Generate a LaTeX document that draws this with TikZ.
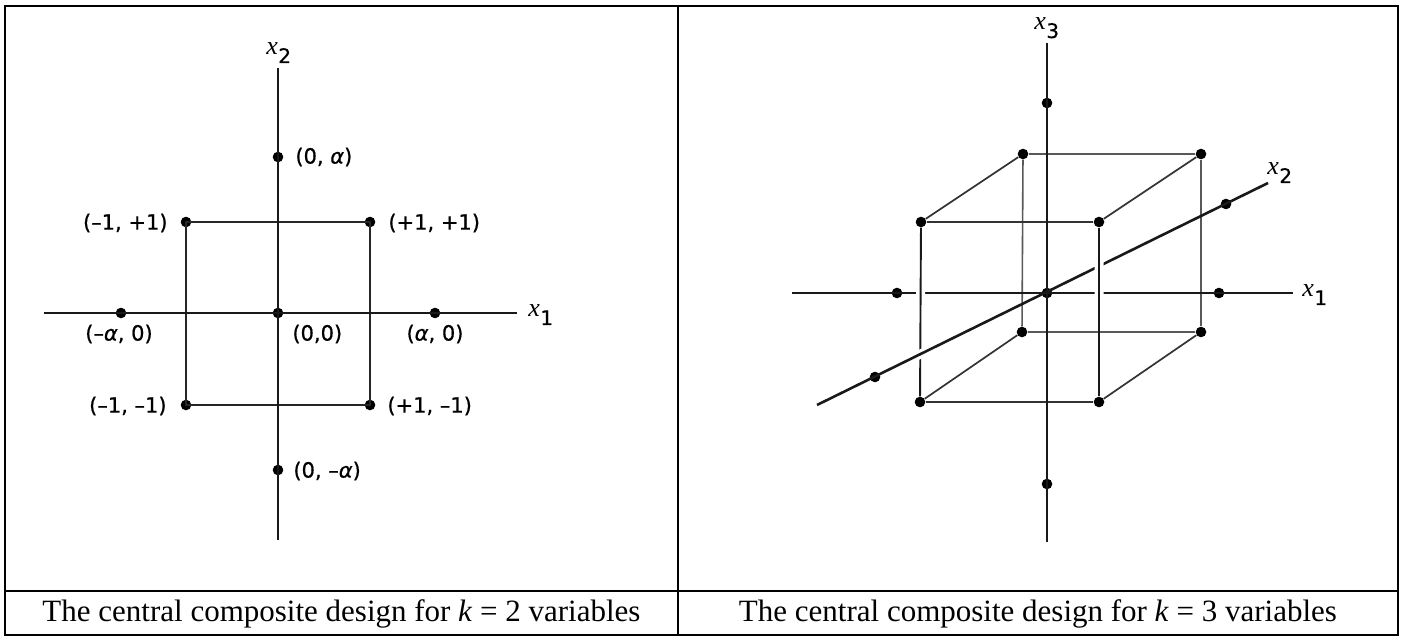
\documentclass[tikz,border=0pt]{standalone}
\usepackage{fontspec}
\setmainfont{Liberation Serif}
\newfontfamily\labfont[FakeBold=0.7]{DejaVu Sans}
\usetikzlibrary{calc}
\newcommand\xsub[1]{\textit{x}\kern0.2pt\raisebox{-4pt}{\labfont\fontsize{10}{10}\selectfont #1}}
\begin{document}
\begin{tikzpicture}[x=0.5pt,y=-0.5pt,
  dot/.style={circle,fill=black,inner sep=0pt,minimum size=5.3pt},
  axisline/.style={line width=1.3pt,black!90},
  sqedge/.style={line width=0.95pt,black!85},
  cedge/.style={line width=0.85pt,black!80},
  backedge/.style={line width=0.8pt,black!65},
  halo/.style={line width=4.5pt,white},
  lbl/.style={inner sep=0pt,font=\labfont\fontsize{10.5}{12}\selectfont},
  axlbl/.style={inner sep=0pt,font=\fontsize{13}{15}\selectfont},
  captext/.style={inner sep=0pt,font=\fontsize{15.5}{18}\selectfont},
  frame/.style={line width=1pt,black}]

\useasboundingbox (0,0) rectangle (1403,641);

% ---------- table frame ----------
\coordinate (TL) at (5,6);
\coordinate (BR) at (1398,635);
\coordinate (TM) at (678,6);
\coordinate (BM) at (678,635);
\coordinate (ML) at (5,591);
\coordinate (MR) at (1398,591);
\draw[frame] (TL) rectangle (BR);
\draw[line width=0.8pt] (TM) -- (BM);
\draw[line width=1.2pt] (ML) -- (MR);

\node[captext,anchor=base] (capL) at (341.5,621) {The central composite design for \textit{k} = 2 variables};
\node[captext,anchor=base] (capR) at (1038,621) {The central composite design for \textit{k} = 3 variables};

% ---------- left diagram (k = 2) ----------
\coordinate (Lx1a) at (44,313);
\coordinate (Lx1b) at (517,313);
\coordinate (Lx2a) at (278,68);
\coordinate (Lx2b) at (278,540);
\node[dot] (L00) at (278,313) {};
\node[dot] (L0a) at (278,157) {};
\node[dot] (L0m) at (278,470) {};
\node[dot] (Lma) at (121,313) {};
\node[dot] (La0) at (435,313) {};
\node[dot] (Lmp) at (186,222) {};
\node[dot] (Lpp) at (370,222) {};
\node[dot] (Lmm) at (186,405) {};
\node[dot] (Lpm) at (370,405) {};
\draw[sqedge] (Lmp.center) -- (Lpp.center) -- (Lpm.center) -- (Lmm.center) -- cycle;
\draw[axisline] (Lx1a) -- (Lx1b);
\draw[axisline] (Lx2a) -- (Lx2b);

\node[lbl,anchor=west] (tL0a) at (295,157) {(0, \textit{α})};
\node[lbl,anchor=east] (tLmp) at (168,223) {(–1, +1)};
\node[lbl,anchor=west] (tLpp) at (388,223) {(+1, +1)};
\node[lbl,anchor=east] (tLmm) at (167,406) {(–1, –1)};
\node[lbl,anchor=west] (tLpm) at (387,406) {(+1, –1)};
\node[lbl,anchor=west] (tL0m) at (293,471) {(0, –\textit{α})};
\node[lbl] (tLma) at (119,334) {(–\textit{α}, 0)};
\node[lbl,anchor=west] (tL00) at (292,334) {(0,0)};
\node[lbl] (tLa0) at (435,334) {(\textit{α}, 0)};
\node[axlbl,anchor=base west] (Lx1l) at (528,317) {\xsub{1}};
\node[axlbl,anchor=base west] (Lx2l) at (266,55) {\xsub{2}};

% ---------- right diagram (k = 3) ----------
\coordinate (Rx1a) at (792,293);
\coordinate (Rx1b) at (1293,293);
\coordinate (Rx3a) at (1047,43);
\coordinate (Rx3b) at (1047,542);
\coordinate (Rx2a) at (817,405);
\coordinate (Rx2b) at (1268,183);
\node[dot] (RO) at (1047,293) {};
\node[dot] (R1m) at (897,293) {};
\node[dot] (R1p) at (1219,293) {};
\node[dot] (R3p) at (1047,103) {};
\node[dot] (R3m) at (1047,484) {};
\node[dot] (R2m) at (875,377) {};
\node[dot] (R2p) at (1226,204) {};
\node[dot] (FTL) at (921,222) {};
\node[dot] (FTR) at (1099,222) {};
\node[dot] (FBL) at (920,402) {};
\node[dot] (FBR) at (1099,402) {};
\node[dot] (BTL) at (1023,154) {};
\node[dot] (BTR) at (1201,154) {};
\node[dot] (BBL) at (1022,332) {};
\node[dot] (BBR) at (1201,332) {};

% back face and depth edges
\draw[backedge] (BTL) -- (BTR);
\draw[backedge] (BTR) -- (BBR);
\draw[backedge] (BBR) -- (BBL);
\draw[backedge] (BBL) -- (BTL);
\draw[cedge] (FTL) -- (BTL);
\draw[cedge] (FTR) -- (BTR);
\draw[cedge] (FBL) -- (BBL);
\draw[cedge] (FBR) -- (BBR);
\draw[cedge] (FTL) -- (FTR);
\draw[cedge] (FBL) -- (FBR);
% axes x1 and x3
\draw[axisline] (Rx1a) -- (Rx1b);
\draw[axisline] (Rx3a) -- (Rx3b);
% front-left edge in front of x1
\draw[halo] ($(FTL)!0.33!(FBL)$) -- ($(FTL)!0.46!(FBL)$);
\draw[cedge,black!90,line width=0.95pt] (FTL) -- (FBL);
% x2 axis in front of front-left edge
\draw[halo] ($(Rx2a)!0.2!(Rx2b)$) -- ($(Rx2a)!0.26!(Rx2b)$);
\draw[axisline] (Rx2a) -- (Rx2b);
% front-right edge in front of x1 and x2
\draw[halo] ($(FTR)!0.17!(FBR)$) -- ($(FTR)!0.44!(FBR)$);
\draw[cedge,black!90,line width=0.95pt] (FTR) -- (FBR);

\node[axlbl,anchor=base west] (Rx3l) at (1034,30) {\xsub{3}};
\node[axlbl,anchor=base west] (Rx2l) at (1267,175) {\xsub{2}};
\node[axlbl,anchor=base west] (Rx1l) at (1302,297) {\xsub{1}};
\end{tikzpicture}
\end{document}
